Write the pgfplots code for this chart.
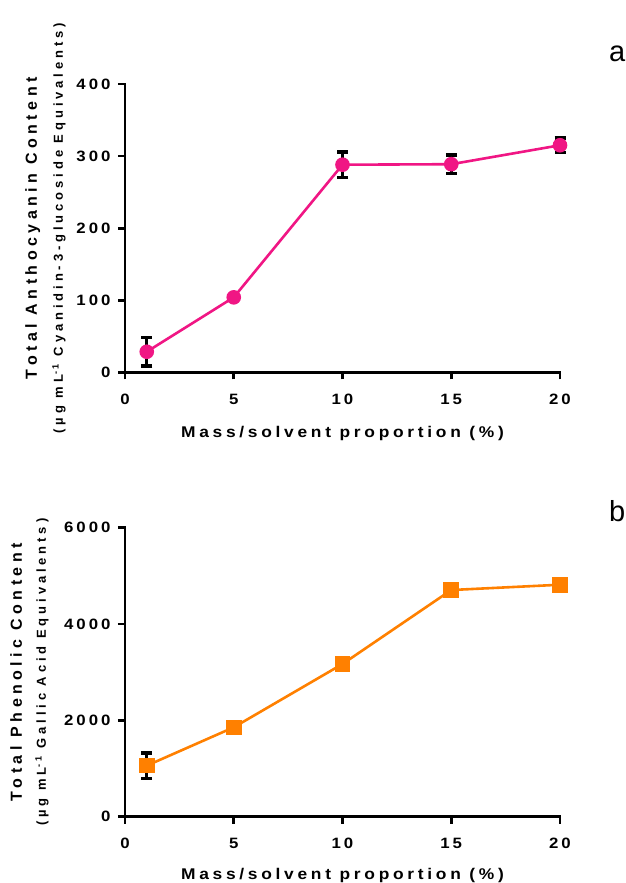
\documentclass[border=0pt]{standalone}
\usepackage{pgfplots}
\pgfplotsset{compat=1.18}
\usetikzlibrary{calc}
\usepackage{fontspec}
\setmainfont{Liberation Sans}
\newfontfamily\tickfont[LetterSpace=20,FakeStretch=1.12]{Liberation Sans}
\newfontfamily\xlabfont[LetterSpace=24,FakeStretch=1.12]{Liberation Sans}
\newfontfamily\ylabfont[LetterSpace=28]{Liberation Sans}
\newfontfamily\ysubfont[LetterSpace=30]{Liberation Sans}

\definecolor{anthpink}{RGB}{240,22,132}
\definecolor{phenorange}{RGB}{255,128,0}

\pgfplotsset{
  panel/.style={
    scale only axis, width=435pt,
    axis lines=left,
    axis line style={-, line width=2.8pt, line cap=rect},
    xmin=0, xmax=20, ymin=0,
    xtick={0,5,10,15,20},
    tick align=outside, major tick length=7pt,
    tick style={black, line width=2.8pt},
    ticklabel style={font=\tickfont\bfseries\fontsize{15}{15}\selectfont},
    xticklabel style={yshift=-11pt},
    yticklabel style={xshift=-4pt},
    /pgf/number format/assume math mode=true,
    /pgf/number format/1000 sep={},
    clip=false,
  },
  ebars/.style={
    error bars/.cd, y dir=both, y explicit,
    error bar style={black, line width=3.4pt},
    error mark options={black, line width=3.6pt, mark size=5.5pt, rotate=90},
  },
}

\begin{document}
\begin{tikzpicture}[x=1pt,y=1pt]
\useasboundingbox (0,0) rectangle (625,883);

% (a) total anthocyanin content
\begin{axis}[panel, at={(125pt,510.7pt)}, anchor=south west,
  height=288.3pt, ymax=400, ytick={0,100,200,300,400}]
  \addplot[anthpink, line width=2.6pt, mark=*, mark size=6pt,
    mark options={solid, fill=anthpink, draw=anthpink}, ebars]
    coordinates {
      (1,28.5)  +- (0,20)
      (5,104)   +- (0,3)
      (10,288)  +- (0,18)
      (15,288.7)+- (0,13)
      (20,315)  +- (0,10)
    };
  \node[rotate=90, anchor=base, inner sep=0,
    font=\ylabfont\bfseries\fontsize{16}{16}\selectfont]
    at ($(rel axis cs:0,0.5)+(-88pt,0)$) {Total Anthocyanin Content};
  \node[rotate=90, anchor=base, inner sep=0,
    font=\ysubfont\bfseries\fontsize{13}{13}\selectfont]
    at ($(rel axis cs:0,0.5)+(-62pt,0)$)
    {(µg mL\textsuperscript{-1} Cyanidin-3-glucoside Equivalents)};
  \node[anchor=base, inner sep=0,
    font=\xlabfont\bfseries\fontsize{15.5}{15.5}\selectfont]
    at ($(rel axis cs:0.5,0)+(0,-65pt)$) {Mass/solvent proportion (\%)};
\end{axis}

% (b) total phenolic content
\begin{axis}[panel, at={(125pt,66.3pt)}, anchor=south west,
  height=289pt, ymax=6000, ytick={0,2000,4000,6000}]
  \addplot[phenorange, line width=2.6pt, mark=square*, mark size=6.5pt,
    mark options={solid, fill=phenorange, draw=phenorange}, ebars]
    coordinates {
      (1,1060)  +- (0,265)
      (5,1856)  +- (0,60)
      (10,3170) +- (0,60)
      (15,4706) +- (0,60)
      (20,4816) +- (0,60)
    };
  \node[rotate=90, anchor=base, inner sep=0,
    font=\ylabfont\bfseries\fontsize{16}{16}\selectfont]
    at ($(rel axis cs:0,0.5)+(-103pt,0)$) {Total Phenolic Content};
  \node[rotate=90, anchor=base, inner sep=0,
    font=\ysubfont\bfseries\fontsize{13}{13}\selectfont]
    at ($(rel axis cs:0,0.5)+(-79pt,0)$)
    {(µg mL\textsuperscript{-1} Gallic Acid Equivalents)};
  \node[anchor=base, inner sep=0,
    font=\xlabfont\bfseries\fontsize{15.5}{15.5}\selectfont]
    at ($(rel axis cs:0.5,0)+(0,-63pt)$) {Mass/solvent proportion (\%)};
\end{axis}

% panel letters
\node[anchor=base west, inner sep=0, font=\fontsize{29}{29}\selectfont]
  at (609,821) {a};
\node[anchor=base west, inner sep=0, font=\fontsize{29}{29}\selectfont]
  at (609,361) {b};
\end{tikzpicture}
\end{document}
